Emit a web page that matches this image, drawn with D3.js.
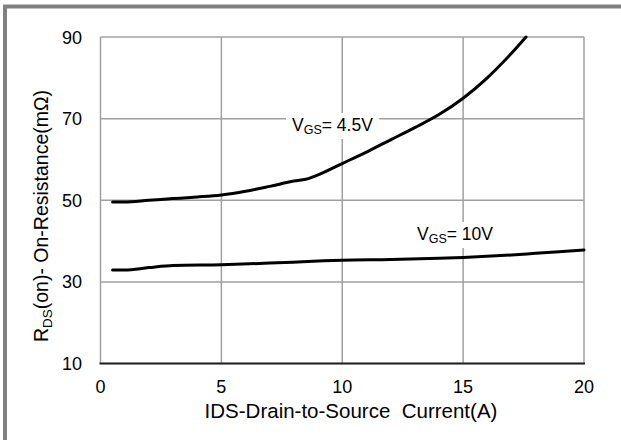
<!DOCTYPE html>
<html><head><meta charset="utf-8">
<script src="https://cdn.jsdelivr.net/npm/d3@7/dist/d3.min.js"></script>
<style>body{margin:0;background:#fff}svg{display:block}text{font-family:"Liberation Sans",Arial,sans-serif;fill:#000}</style>
</head><body>
<svg id="c" width="621" height="440"></svg>
<script>
// Data
const xTicks = [0, 5, 10, 15, 20];
const yTicks = [10, 30, 50, 70, 90];
const vgs45_x = [0.5, 1, 2, 3, 4, 5, 6, 7, 8, 8.6, 9, 10, 11, 12, 13, 14, 15, 16, 17, 17.6];
const vgs45_y = [49.6, 49.6, 50.0, 50.4, 50.8, 51.3, 52.2, 53.4, 54.7, 55.3, 56.2, 59.0, 61.8, 64.8, 67.8, 71.0, 75.0, 80.0, 86.0, 90.0];
const vgs10_x = [0.5, 1, 2, 3, 5, 7, 9, 10, 12, 14, 15, 17, 18, 20];
const vgs10_y = [32.9, 32.9, 33.5, 34.0, 34.2, 34.6, 35.1, 35.3, 35.5, 35.8, 36.0, 36.6, 37.0, 37.8];

const svg = d3.select("#c");
const L = 100.5, R = 584, T = 37, B = 363.5;
const x = d3.scaleLinear().domain([0, 20]).range([L, R]);
const y = d3.scaleLinear().domain([10, 90]).range([B, T]);

// outer frame
svg.append("rect").attr("x", 5).attr("y", 6.5).attr("width", 700).attr("height", 500)
  .attr("fill", "none").attr("stroke", "#808080").attr("stroke-width", 4);

// gridlines
const g = svg.append("g");
g.selectAll(".vx").data(xTicks).join("line")
  .attr("x1", d => x(d)).attr("x2", d => x(d)).attr("y1", T).attr("y2", B)
  .attr("stroke", "#a0a0a0").attr("stroke-width", 1.5);
g.selectAll(".hy").data(yTicks).join("line")
  .attr("x1", L).attr("x2", R).attr("y1", d => y(d)).attr("y2", d => y(d))
  .attr("stroke", "#a0a0a0").attr("stroke-width", 1.5);
// bottom axis line
svg.append("line").attr("x1", L - 1).attr("x2", R + 1).attr("y1", B).attr("y2", B)
  .attr("stroke", "#222").attr("stroke-width", 2);

// tick labels
svg.selectAll(".xt").data(xTicks).join("text")
  .attr("x", d => x(d)).attr("y", 393).attr("text-anchor", "middle")
  .attr("font-size", 18).text(d => d);
svg.selectAll(".yt").data(yTicks).join("text")
  .attr("x", 82).attr("y", d => y(d) + 6.5).attr("text-anchor", "end")
  .attr("font-size", 18).text(d => d);

// axis titles
svg.append("text").attr("x", 351).attr("y", 418).attr("text-anchor", "middle")
  .attr("font-size", 20.5).attr("xml:space", "preserve").text("IDS-Drain-to-Source  Current(A)");
const yt = svg.append("text").attr("transform", "translate(48,216) rotate(-90)")
  .attr("text-anchor", "middle").attr("font-size", 19.5);
yt.append("tspan").text("R");
yt.append("tspan").attr("font-size", 13.5).attr("dy", 4).text("DS");
yt.append("tspan").attr("dy", -4).text("(on)- On-Resistance(mΩ)");

// curves
const line = d3.line().x(d => x(d[0])).y(d => y(d[1])).curve(d3.curveMonotoneX);
const s45 = vgs45_x.map((v, i) => [v, vgs45_y[i]]);
const s10 = vgs10_x.map((v, i) => [v, vgs10_y[i]]);
[s45, s10].forEach(s => svg.append("path").datum(s).attr("d", line)
  .attr("fill", "none").attr("stroke", "#000").attr("stroke-width", 3).attr("stroke-linecap", "round"));

// annotations
function annot(px, py, rest) {
  const t = svg.append("text").attr("x", px).attr("y", py).attr("font-size", 17.5);
  t.append("tspan").text("V");
  t.append("tspan").attr("font-size", 12.5).attr("dy", 3).text("GS");
  t.append("tspan").attr("dy", -3).text(rest);
  const bb = t.node().getBBox();
  svg.insert("rect", "text").attr("x", bb.x - 6).attr("y", bb.y - 2)
    .attr("width", bb.width + 12).attr("height", bb.height + 4).attr("fill", "#fff");
}
annot(292, 131, "= 4.5V");
annot(417, 240, "= 10V");
</script>
</body></html>
